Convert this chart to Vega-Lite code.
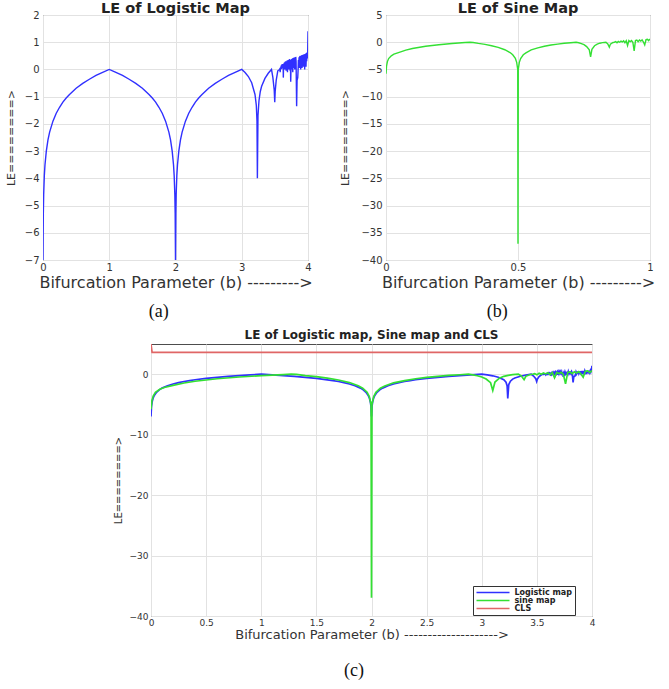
{
  "$schema": "https://vega.github.io/schema/vega-lite/v6.json",
  "padding": {"left": 4, "top": 0, "right": 0, "bottom": 0},
  "background": "white",
  "config": {
    "view": {"stroke": "#4d4d4d", "strokeWidth": 1},
    "axis": {"grid": true, "gridColor": "#e2e2e2", "gridWidth": 1, "domain": false, "ticks": false, "labelFont": "DejaVu Sans", "labelFontSize": 10, "labelColor": "#333", "labelPadding": 4, "labelFlush": false, "titleFont": "DejaVu Sans", "titleFontWeight": "normal", "titleColor": "#333"},
    "title": {"font": "DejaVu Sans", "fontWeight": "bold", "color": "#222"}
  },
  "datasets": {
    "logistic": [
      {"r":0,"le":-7},{"r":0.002,"le":-6.2},{"r":0.005,"le":-5.3},{"r":0.01,"le":-4.6},{"r":0.02,"le":-3.9},{"r":0.03,"le":-3.5},{"r":0.05,"le":-3.0},{"r":0.075,"le":-2.59},{"r":0.1,"le":-2.3},{"r":0.15,"le":-1.9},{"r":0.2,"le":-1.61},{"r":0.25,"le":-1.39},{"r":0.3,"le":-1.2},{"r":0.35,"le":-1.05},{"r":0.4,"le":-0.92},{"r":0.5,"le":-0.69},{"r":0.6,"le":-0.51},{"r":0.7,"le":-0.36},{"r":0.8,"le":-0.22},{"r":0.9,"le":-0.105},{"r":1.0,"le":0},
      {"r":1.1,"le":-0.105},{"r":1.2,"le":-0.22},{"r":1.3,"le":-0.36},{"r":1.4,"le":-0.51},{"r":1.5,"le":-0.69},{"r":1.6,"le":-0.92},{"r":1.65,"le":-1.05},{"r":1.7,"le":-1.2},{"r":1.75,"le":-1.39},{"r":1.8,"le":-1.61},{"r":1.85,"le":-1.9},{"r":1.9,"le":-2.3},{"r":1.925,"le":-2.59},{"r":1.95,"le":-3.0},{"r":1.97,"le":-3.5},{"r":1.98,"le":-3.9},{"r":1.99,"le":-4.6},{"r":1.995,"le":-5.3},{"r":2.0,"le":-7},
      {"r":2.005,"le":-5.3},{"r":2.01,"le":-4.6},{"r":2.02,"le":-3.9},{"r":2.03,"le":-3.5},{"r":2.05,"le":-3.0},{"r":2.075,"le":-2.59},{"r":2.1,"le":-2.3},{"r":2.15,"le":-1.9},{"r":2.2,"le":-1.61},{"r":2.25,"le":-1.39},{"r":2.3,"le":-1.2},{"r":2.35,"le":-1.05},{"r":2.4,"le":-0.92},{"r":2.5,"le":-0.69},{"r":2.6,"le":-0.51},{"r":2.7,"le":-0.36},{"r":2.8,"le":-0.22},{"r":2.9,"le":-0.105},{"r":3.0,"le":0},
      {"r":3.05,"le":-0.11},{"r":3.1,"le":-0.26},{"r":3.15,"le":-0.49},{"r":3.2,"le":-0.92},{"r":3.22,"le":-1.32},{"r":3.23,"le":-1.9},{"r":3.236,"le":-4.0},{"r":3.245,"le":-1.7},{"r":3.26,"le":-1.15},{"r":3.28,"le":-0.81},{"r":3.3,"le":-0.62},{"r":3.35,"le":-0.33},{"r":3.4,"le":-0.14},{"r":3.449,"le":0},
      {"r":3.47,"le":-0.3},{"r":3.49,"le":-0.75},{"r":3.498,"le":-1.2},{"r":3.505,"le":-0.8},{"r":3.52,"le":-0.4},{"r":3.544,"le":-0.05},{"r":3.56,"le":-0.02},{"r":3.57,"le":0},
      {"r":3.575,"le":0.03},{"r":3.58,"le":-0.1},{"r":3.585,"le":0.08},{"r":3.59,"le":0.0},{"r":3.595,"le":0.14},{"r":3.6,"le":0.02},{"r":3.605,"le":0.18},{"r":3.61,"le":0.05},{"r":3.615,"le":0.2},{"r":3.62,"le":0.08},{"r":3.625,"le":0.15},{"r":3.6275,"le":-0.3},{"r":3.63,"le":0.0},{"r":3.635,"le":0.22},{"r":3.64,"le":0.05},{"r":3.645,"le":0.25},{"r":3.65,"le":0.0},{"r":3.655,"le":0.28},{"r":3.66,"le":0.08},{"r":3.665,"le":0.3},{"r":3.67,"le":-0.05},{"r":3.675,"le":0.3},{"r":3.68,"le":0.1},{"r":3.685,"le":0.33},{"r":3.69,"le":-0.1},{"r":3.695,"le":0.34},{"r":3.7,"le":0.05},{"r":3.705,"le":0.35},{"r":3.71,"le":0.0},{"r":3.715,"le":0.36},{"r":3.72,"le":0.1},{"r":3.725,"le":0.38},{"r":3.73,"le":-0.05},{"r":3.735,"le":0.35},{"r":3.7389,"le":-0.45},{"r":3.745,"le":0.2},{"r":3.75,"le":0.0},{"r":3.755,"le":0.38},{"r":3.76,"le":0.1},{"r":3.765,"le":0.4},{"r":3.77,"le":-0.1},{"r":3.775,"le":0.42},{"r":3.78,"le":0.05},{"r":3.785,"le":0.43},{"r":3.79,"le":0.1},{"r":3.795,"le":0.44},{"r":3.8,"le":0.0},{"r":3.805,"le":0.45},{"r":3.81,"le":0.15},{"r":3.815,"le":0.46},{"r":3.82,"le":0.3},{"r":3.8284,"le":-1.35},{"r":3.835,"le":-0.4},{"r":3.845,"le":-0.3},{"r":3.85,"le":-0.05},{"r":3.855,"le":0.35},{"r":3.86,"le":0.1},{"r":3.865,"le":0.45},{"r":3.87,"le":0.05},{"r":3.875,"le":0.48},{"r":3.88,"le":0.15},{"r":3.885,"le":0.5},{"r":3.89,"le":0.0},{"r":3.895,"le":0.5},{"r":3.9,"le":0.2},{"r":3.905,"le":0.52},{"r":3.91,"le":0.05},{"r":3.915,"le":0.53},{"r":3.92,"le":0.2},{"r":3.925,"le":0.54},{"r":3.93,"le":0.1},{"r":3.935,"le":0.55},{"r":3.94,"le":0.3},{"r":3.945,"le":0.56},{"r":3.95,"le":0.0},{"r":3.955,"le":0.57},{"r":3.96,"le":0.2},{"r":3.965,"le":0.58},{"r":3.97,"le":0.1},{"r":3.975,"le":0.6},{"r":3.98,"le":0.3},{"r":3.985,"le":0.62},{"r":3.99,"le":0.4},{"r":3.995,"le":0.65},{"r":4.0,"le":1.4}
    ],
    "sine": [
      {"a":0,"le":-5.8},{"a":0.002,"le":-4.4},{"a":0.005,"le":-3.6},{"a":0.01,"le":-3.0},{"a":0.02,"le":-2.5},{"a":0.03,"le":-2.2},{"a":0.05,"le":-1.85},{"a":0.075,"le":-1.45},{"a":0.1,"le":-1.16},{"a":0.15,"le":-0.75},{"a":0.2,"le":-0.46},{"a":0.25,"le":-0.24},{"a":0.3,"le":-0.06},{"a":0.318,"le":0},
      {"a":0.33,"le":-0.04},{"a":0.35,"le":-0.22},{"a":0.375,"le":-0.4},{"a":0.4,"le":-0.65},{"a":0.425,"le":-0.95},{"a":0.45,"le":-1.38},{"a":0.47,"le":-1.9},{"a":0.48,"le":-2.31},{"a":0.49,"le":-2.98},{"a":0.495,"le":-3.7},{"a":0.499,"le":-5},{"a":0.5,"le":-37},{"a":0.501,"le":-5},{"a":0.505,"le":-3.7},{"a":0.51,"le":-3.0},{"a":0.52,"le":-2.3},{"a":0.53,"le":-1.95},{"a":0.55,"le":-1.42},{"a":0.575,"le":-1.05},{"a":0.6,"le":-0.75},{"a":0.625,"le":-0.52},{"a":0.65,"le":-0.35},{"a":0.675,"le":-0.2},{"a":0.7,"le":-0.09},{"a":0.72,"le":0},
      {"a":0.73,"le":-0.1},{"a":0.74,"le":-0.25},{"a":0.75,"le":-0.45},{"a":0.76,"le":-0.8},{"a":0.77,"le":-1.4},{"a":0.775,"le":-2.7},{"a":0.78,"le":-1.3},{"a":0.79,"le":-0.65},{"a":0.8,"le":-0.35},{"a":0.81,"le":-0.18},{"a":0.82,"le":-0.07},{"a":0.833,"le":0},{"a":0.84,"le":-0.3},{"a":0.846,"le":-0.9},{"a":0.85,"le":-0.35},{"a":0.86,"le":-0.05},{"a":0.865,"le":0},
      {"a":0.87,"le":0.1},{"a":0.875,"le":-0.1},{"a":0.88,"le":0.15},{"a":0.885,"le":0.0},{"a":0.89,"le":0.2},{"a":0.895,"le":0.05},{"a":0.9,"le":0.25},{"a":0.905,"le":-0.1},{"a":0.91,"le":0.28},{"a":0.915,"le":-0.6},{"a":0.92,"le":0.3},{"a":0.925,"le":0.1},{"a":0.93,"le":0.32},{"a":0.935,"le":0.0},{"a":0.94,"le":-1.6},{"a":0.945,"le":0.3},{"a":0.95,"le":0.38},{"a":0.955,"le":0.1},{"a":0.96,"le":0.4},{"a":0.965,"le":0.2},{"a":0.97,"le":0.45},{"a":0.975,"le":0.05},{"a":0.98,"le":-0.5},{"a":0.985,"le":0.5},{"a":0.99,"le":0.55},{"a":0.995,"le":0.3},{"a":1.0,"le":0.6}
    ],
    "cls": [{"x":0,"le":5},{"x":0.01,"le":3.6},{"x":4,"le":3.6}]
  },
  "spacing": 7,
  "resolve": {"legend": {"color": "independent"}},
  "vconcat": [
    {
      "spacing": 26,
      "hconcat": [
        {
          "title": {"text": "(a)", "orient": "bottom", "frame": "bounds", "anchor": "middle", "font": "Liberation Serif", "fontSize": 18, "fontWeight": "normal", "color": "#111", "offset": 12},
          "vconcat": [
            {
              "width": 265, "height": 245,
              "title": {"text": "LE of Logistic Map", "fontSize": 14.5, "frame": "group", "anchor": "middle", "offset": -6},
              "data": {"name": "logistic"},
              "mark": {"type": "line", "color": "#3030ff", "strokeWidth": 1.4, "clip": true},
              "encoding": {
                "x": {"field": "r", "type": "quantitative", "scale": {"domain": [0, 4], "nice": false}, "axis": {"values": [0, 1, 2, 3, 4], "format": "~g", "labelPadding": 2, "title": "Bifurcation Parameter (b) --------->", "titleFontSize": 16, "titlePadding": 2}},
                "y": {"field": "le", "type": "quantitative", "scale": {"domain": [-7, 2], "nice": false, "zero": false}, "axis": {"values": [2, 1, 0, -1, -2, -3, -4, -5, -6, -7], "title": "LE========>", "titleFontSize": 11, "titlePadding": 8}}
              }
            }
          ]
        },
        {
          "title": {"text": "(b)", "orient": "bottom", "frame": "bounds", "anchor": "middle", "font": "Liberation Serif", "fontSize": 18, "fontWeight": "normal", "color": "#111", "offset": 12},
          "vconcat": [
            {
              "width": 264, "height": 245,
              "title": {"text": "LE of Sine Map", "fontSize": 14.5, "frame": "group", "anchor": "middle", "offset": -6},
              "data": {"name": "sine"},
              "mark": {"type": "line", "color": "#33e033", "strokeWidth": 1.4, "clip": true},
              "encoding": {
                "x": {"field": "a", "type": "quantitative", "scale": {"domain": [0, 1], "nice": false}, "axis": {"values": [0, 0.5, 1], "format": "~g", "labelPadding": 2, "title": "Bifurcation Parameter (b) --------->", "titleFontSize": 16, "titlePadding": 2}},
                "y": {"field": "le", "type": "quantitative", "scale": {"domain": [-40, 5], "nice": false, "zero": false}, "axis": {"values": [5, 0, -5, -10, -15, -20, -25, -30, -35, -40], "title": "LE========>", "titleFontSize": 11, "titlePadding": 10}}
              }
            }
          ]
        }
      ]
    },
    {
      "spacing": 8,
      "resolve": {"legend": {"color": "independent"}},
      "hconcat": [
        {
          "width": 60, "height": 10,
          "data": {"values": []},
          "mark": {"type": "point"},
          "encoding": {},
          "view": {"stroke": "transparent"}
        },
        {
          "title": {"text": "(c)", "orient": "bottom", "frame": "bounds", "anchor": "middle", "font": "Liberation Serif", "fontSize": 18, "fontWeight": "normal", "color": "#111", "offset": 20},
          "resolve": {"legend": {"color": "independent"}},
          "vconcat": [
            {
              "width": 441, "height": 272,
              "title": {"text": "LE of Logistic map, Sine map and CLS", "fontSize": 12, "frame": "group", "anchor": "middle", "offset": 2},
              "resolve": {"scale": {"x": "independent"}},
              "layer": [
                {
                  "data": {"name": "logistic"},
                  "mark": {"type": "line", "strokeWidth": 1.7, "clip": true},
                  "encoding": {
                    "x": {"field": "r", "type": "quantitative", "scale": {"domain": [0, 4], "nice": false}, "axis": {"values": [0, 0.5, 1, 1.5, 2, 2.5, 3, 3.5, 4], "format": "~g", "labelFontSize": 9, "labelPadding": 2, "title": "Bifurcation Parameter (b) -------------------->", "titleFontSize": 13, "titlePadding": 1}},
                    "y": {"field": "le", "type": "quantitative", "scale": {"domain": [-40, 5], "nice": false, "zero": false}, "axis": {"values": [5, 0, -5, -10, -15, -20, -25, -30, -35, -40], "labelFontSize": 9, "labelPadding": 3, "title": "LE========>", "titleFontSize": 10, "titlePadding": 6}},
                    "color": {"datum": "Logistic map", "type": "nominal", "scale": {"domain": ["Logistic map", "sine map", "CLS"], "range": ["#3030ff", "#33e033", "#e06666"]}, "legend": {"title": null, "orient": "none", "legendX": 322, "legendY": 242, "symbolType": "M-1,0H10", "symbolSize": 36, "symbolStrokeWidth": 1.5, "labelFont": "DejaVu Sans", "labelFontSize": 8, "labelFontWeight": "bold", "labelColor": "#222", "labelOffset": 31, "rowPadding": 0, "padding": 2.5, "strokeColor": "#333", "fillColor": "white"}}
                  }
                },
                {
                  "data": {"name": "sine"},
                  "mark": {"type": "line", "strokeWidth": 1.7, "clip": true},
                  "encoding": {
                    "x": {"field": "a", "type": "quantitative", "scale": {"domain": [0, 1], "nice": false}, "axis": null},
                    "y": {"field": "le", "type": "quantitative"},
                    "color": {"datum": "sine map", "type": "nominal"}
                  }
                },
                {
                  "data": {"name": "cls"},
                  "mark": {"type": "line", "strokeWidth": 1.7, "clip": true},
                  "encoding": {
                    "x": {"field": "x", "type": "quantitative", "scale": {"domain": [0, 4], "nice": false}, "axis": null},
                    "y": {"field": "le", "type": "quantitative"},
                    "color": {"datum": "CLS", "type": "nominal"}
                  }
                }
              ]
            }
          ]
        }
      ]
    }
  ]
}
